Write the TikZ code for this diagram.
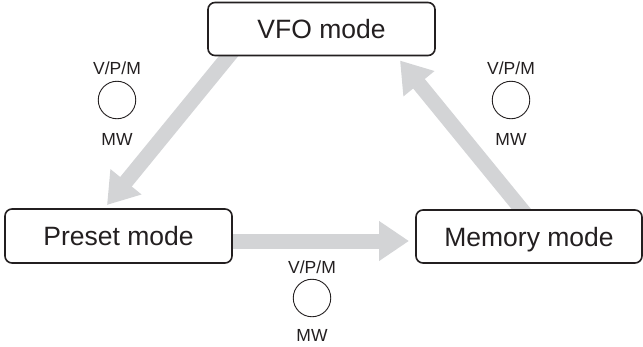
\documentclass[tikz,border=0pt]{standalone}
\usepackage{fontspec}
\setmainfont{Liberation Sans}
\usetikzlibrary{arrows.meta,backgrounds}
\definecolor{tinta}{HTML}{231F20}
\definecolor{seta}{HTML}{D3D4D6}
\tikzset{
  modo/.style={draw=tinta, line width=1.6pt, rounded corners=7pt, fill=white,
    inner sep=0pt, outer sep=0pt, minimum height=53pt, font=\fontsize{26.5pt}{30pt}\selectfont,
    text=tinta, text height=19pt, text depth=0pt},
  botao/.style={draw=tinta, line width=0.9pt, circle, minimum size=37.5pt, inner sep=0pt},
  rotulo/.style={text=tinta, font=\fontsize{17.5pt}{20pt}\selectfont, inner sep=0pt,
    text height=12.5pt, text depth=0pt},
  setagrossa/.style={seta, line width=15pt, -{Triangle[width=38pt, length=30pt]}}
}

\begin{document}
\begin{tikzpicture}[x=1pt, y=-1pt]
\useasboundingbox (0,0) rectangle (643,346);

% Caixas dos modos
\node[modo, minimum width=227pt] (vfo) at (321.5,29) {VFO mode};
\node[modo, minimum width=227pt, minimum height=54pt] (preset) at (118.5,236) {Preset mode};
\node[modo, minimum width=226pt] (memory) at (529,236.5) {Memory mode};

% Setas (por baixo das caixas)
\begin{scope}[on background layer]
\draw[setagrossa] ([xshift=-85.9pt, yshift=8pt]vfo.south) -- ([xshift=-11.5pt, yshift=4pt]preset.north);
\draw[setagrossa] ([xshift=-6pt, yshift=-5pt]preset.east) -- ([xshift=-7pt, yshift=-4.5pt]memory.west);
\draw[setagrossa] ([xshift=-0.4pt, yshift=-8pt]memory.north) -- ([xshift=78.5pt, yshift=-5pt]vfo.south);
\end{scope}

% Botao da esquerda
\node[botao] (botaoE) at (117,100) {};
\node[rotulo] (vpmE) at (117,68) {V/P/M};
\node[rotulo] (mwE) at (117,139) {MW};

% Botao da direita
\node[botao] (botaoD) at (511,100) {};
\node[rotulo] (vpmD) at (511,68) {V/P/M};
\node[rotulo] (mwD) at (511,139) {MW};

% Botao de baixo
\node[botao] (botaoB) at (312,298) {};
\node[rotulo] (vpmB) at (312,267) {V/P/M};
\node[rotulo] (mwB) at (312,335.5) {MW};

\end{tikzpicture}
\end{document}
